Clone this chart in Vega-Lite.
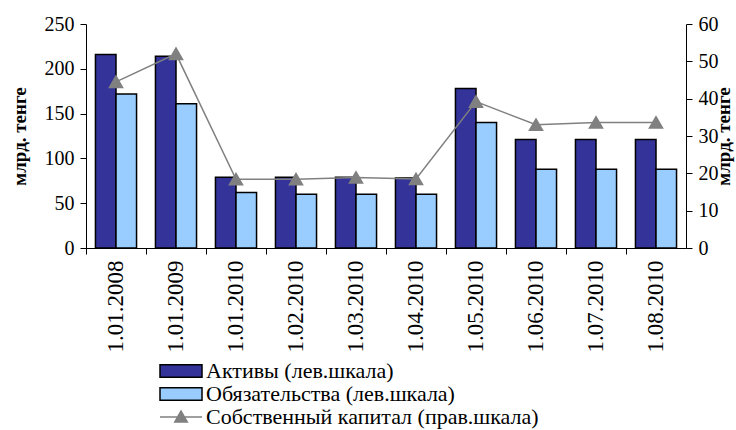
{
  "$schema": "https://vega.github.io/schema/vega-lite/v6.json",
  "autosize": {"type": "none"},
  "width": 600,
  "height": 224,
  "padding": {"left": 86, "top": 24, "right": 50, "bottom": 182},
  "background": "white",
  "config": {
    "font": "Liberation Serif",
    "view": {"stroke": null},
    "axis": {"labelFont": "Liberation Serif", "titleFont": "Liberation Serif", "labelColor": "black", "titleColor": "black", "domainColor": "black", "tickColor": "black", "grid": false},
    "legend": {"labelFont": "Liberation Serif", "labelColor": "black", "labelLimit": 500}
  },
  "datasets": {
    "bars": [
      {"date": "1.01.2008", "series": "Активы (лев.шкала)", "value": 216},
      {"date": "1.01.2008", "series": "Обязательства (лев.шкала)", "value": 172},
      {"date": "1.01.2009", "series": "Активы (лев.шкала)", "value": 214},
      {"date": "1.01.2009", "series": "Обязательства (лев.шкала)", "value": 161},
      {"date": "1.01.2010", "series": "Активы (лев.шкала)", "value": 79},
      {"date": "1.01.2010", "series": "Обязательства (лев.шкала)", "value": 62},
      {"date": "1.02.2010", "series": "Активы (лев.шкала)", "value": 79},
      {"date": "1.02.2010", "series": "Обязательства (лев.шкала)", "value": 60},
      {"date": "1.03.2010", "series": "Активы (лев.шкала)", "value": 79},
      {"date": "1.03.2010", "series": "Обязательства (лев.шкала)", "value": 60},
      {"date": "1.04.2010", "series": "Активы (лев.шкала)", "value": 78},
      {"date": "1.04.2010", "series": "Обязательства (лев.шкала)", "value": 60},
      {"date": "1.05.2010", "series": "Активы (лев.шкала)", "value": 178},
      {"date": "1.05.2010", "series": "Обязательства (лев.шкала)", "value": 140},
      {"date": "1.06.2010", "series": "Активы (лев.шкала)", "value": 121},
      {"date": "1.06.2010", "series": "Обязательства (лев.шкала)", "value": 88},
      {"date": "1.07.2010", "series": "Активы (лев.шкала)", "value": 121},
      {"date": "1.07.2010", "series": "Обязательства (лев.шкала)", "value": 88},
      {"date": "1.08.2010", "series": "Активы (лев.шкала)", "value": 121},
      {"date": "1.08.2010", "series": "Обязательства (лев.шкала)", "value": 88}
    ],
    "line": [
      {"date": "1.01.2008", "capital": 44.5},
      {"date": "1.01.2009", "capital": 52},
      {"date": "1.01.2010", "capital": 18.4},
      {"date": "1.02.2010", "capital": 18.4},
      {"date": "1.03.2010", "capital": 18.9},
      {"date": "1.04.2010", "capital": 18.5},
      {"date": "1.05.2010", "capital": 39.2},
      {"date": "1.06.2010", "capital": 33},
      {"date": "1.07.2010", "capital": 33.6},
      {"date": "1.08.2010", "capital": 33.6}
    ]
  },
  "layer": [
    {
      "data": {"name": "bars"},
      "mark": {"type": "bar", "stroke": "black", "strokeWidth": 1.5},
      "encoding": {
        "x": {
          "field": "date", "type": "nominal", "sort": null,
          "scale": {"paddingInner": 0, "paddingOuter": 0},
          "axis": {"title": null, "labelAngle": -90, "labelFontSize": 23, "bandPosition": 0, "tickSize": 6, "labelPadding": 6, "domainWidth": 1, "labelAlign": "right", "labelBaseline": "middle"}
        },
        "xOffset": {"field": "series", "type": "nominal", "sort": null, "scale": {"paddingInner": 0, "paddingOuter": 0.46}},
        "y": {
          "field": "value", "type": "quantitative",
          "scale": {"domain": [0, 250], "nice": false},
          "axis": {"title": "млрд. тенге", "values": [0, 50, 100, 150, 200, 250], "labelFontSize": 20, "titleFontSize": 19, "titleFontWeight": "bold", "tickSize": 6, "labelPadding": 6, "titlePadding": 15}
        },
        "color": {
          "field": "series", "type": "nominal", "sort": null,
          "scale": {"domain": ["Активы (лев.шкала)", "Обязательства (лев.шкала)"], "range": ["#333399", "#99ccff"]},
          "legend": {"title": null, "orient": "none", "legendX": 84, "legendY": 336, "symbolType": "M-2.1,-0.63H2.1V0.63H-2.1Z", "symbolSize": 400, "symbolStrokeColor": "black", "symbolStrokeWidth": 1.5, "labelFontSize": 22, "labelOffset": 14, "rowPadding": 1}
        }
      }
    },
    {
      "data": {"name": "line"},
      "mark": {"type": "line", "strokeWidth": 1.5, "point": {"shape": "triangle-up", "size": 150, "filled": true, "color": "#808080"}},
      "encoding": {
        "x": {"field": "date", "type": "nominal", "sort": null},
        "y": {
          "field": "capital", "type": "quantitative",
          "scale": {"domain": [0, 60], "nice": false},
          "axis": {"orient": "right", "title": "млрд. тенге", "values": [0, 10, 20, 30, 40, 50, 60], "labelFontSize": 20, "titleFontSize": 19, "titleFontWeight": "bold", "titleAngle": -90, "tickSize": 6, "labelPadding": 6, "titlePadding": 15}
        },
        "stroke": {
          "datum": "Собственный капитал (прав.шкала)",
          "type": "nominal",
          "scale": {"range": ["#808080"]},
          "legend": {"title": null, "orient": "none", "legendX": 84, "legendY": 382, "symbolType": "M-2.1,0H2.1M-0.63,0.5L0,-0.6L0.63,0.5Z", "symbolSize": 400, "symbolStrokeWidth": 1.5, "symbolFillColor": "#808080", "labelFontSize": 22, "labelOffset": 14}
        }
      }
    }
  ],
  "resolve": {"scale": {"y": "independent"}}
}
